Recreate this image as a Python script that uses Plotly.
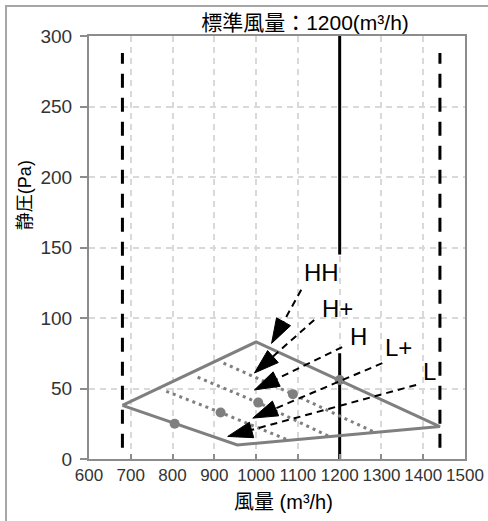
import plotly.graph_objects as go

# ---- data ----
x_ticks = [600, 700, 800, 900, 1000, 1100, 1200, 1300, 1400, 1500]
y_ticks = [0, 50, 100, 150, 200, 250, 300]

envelope_x = [680, 1000, 1440, 955, 680]
envelope_y = [38, 83, 23, 10, 38]

point_x = [805, 915, 1005, 1088, 1200]
point_y = [25, 33, 40, 46, 56]

curve1_x = [785, 915, 1080]
curve1_y = [48, 33, 13]
curve2_x = [860, 1005, 1175]
curve2_y = [58, 40, 16]
curve3_x = [922, 1088, 1283]
curve3_y = [68, 46, 19]

limit_x = [680, 1440]
limit_y = [8, 288]

rated_x = 1200
rated_low_y = [0, 75]
rated_high_y = [145, 300]

labels = ["HH", "H+", "H", "L+", "L"]
label_x = [1156, 1194, 1246, 1342, 1414]
label_y = [132, 107, 87, 79, 62]
tail_x = [1108, 1139, 1206, 1302, 1383]
tail_y = [120, 98.6, 79.4, 68, 52.5]
tip_x = [1037, 996, 996, 992, 932]
tip_y = [82, 61, 49, 29, 16]

GRAY = "#7f7f7f"
CJK = "Liberation Sans, Noto Sans CJK JP, sans-serif"

fig = go.Figure()

# limit dashed verticals
for lx in limit_x:
    fig.add_trace(go.Scatter(x=[lx, lx], y=limit_y, mode="lines",
                             line=dict(color="black", width=3, dash="14px,10px"),
                             hoverinfo="skip", showlegend=False))

# rated flow solid line
for seg in (rated_low_y, rated_high_y):
    fig.add_trace(go.Scatter(x=[rated_x, rated_x], y=seg, mode="lines",
                             line=dict(color="black", width=3),
                             hoverinfo="skip", showlegend=False))

# dotted fan curves
for cx, cy in ((curve1_x, curve1_y), (curve2_x, curve2_y), (curve3_x, curve3_y)):
    fig.add_trace(go.Scatter(x=cx, y=cy, mode="lines",
                             line=dict(color=GRAY, width=3, dash="3px,4px"),
                             hoverinfo="skip", showlegend=False))

# envelope
fig.add_trace(go.Scatter(x=envelope_x, y=envelope_y, mode="lines",
                         line=dict(color=GRAY, width=3),
                         hoverinfo="skip", showlegend=False))

# points
fig.add_trace(go.Scatter(x=point_x, y=point_y, mode="markers",
                         marker=dict(color=GRAY, size=10),
                         hoverinfo="skip", showlegend=False))

# dashed arrows
for i in range(len(labels)):
    fig.add_trace(go.Scatter(x=[tail_x[i], tip_x[i]], y=[tail_y[i], tip_y[i]],
                             mode="lines+markers",
                             line=dict(color="black", width=2, dash="7px,5px"),
                             marker=dict(symbol=["circle", "arrow"], size=[0, 26],
                                         color="black", opacity=1, angleref="previous",
                                         line=dict(width=1, color="black")),
                             hoverinfo="skip", showlegend=False))
    fig.add_annotation(x=label_x[i], y=label_y[i], text=labels[i], showarrow=False,
                       font=dict(family="Liberation Sans, Arial, sans-serif", size=24, color="black"),
                       xanchor="center", yanchor="middle")

fig.add_annotation(xref="paper", yref="paper", x=-0.170, y=0.624, text="静圧(Pa)",
                   textangle=-90, showarrow=False,
                   font=dict(family=CJK, size=18, color="black"),
                   xanchor="center", yanchor="middle")
fig.add_annotation(xref="paper", yref="paper", x=0.516, y=-0.102, text="風量 (m³/h)",
                   showarrow=False, font=dict(family=CJK, size=20, color="black"),
                   xanchor="center", yanchor="middle")

# outer frame
fig.add_shape(type="rect", xref="paper", yref="paper", x0=-0.2207, x1=1.2, y0=-0.3, y1=1.071,
              line=dict(color="#a6a6a6", width=2), fillcolor="rgba(0,0,0,0)", layer="above")

fig.update_layout(
    width=488, height=521,
    margin=dict(l=89, r=23, t=36, b=62, autoexpand=False),
    paper_bgcolor="white", plot_bgcolor="white",
    title=dict(text="標準風量：1200(m³/h)", x=305/488, xanchor="center",
               y=1 - 23/521, yanchor="middle", font=dict(family=CJK, size=21, color="black")),
    xaxis=dict(range=[600, 1500], tickvals=x_ticks, ticktext=[str(v) for v in x_ticks],
               showgrid=True, gridcolor="#d9d9d9", gridwidth=1.5, griddash="6px,5px",
               showline=True, linecolor="#8c8c8c", linewidth=2, mirror=True,
               ticks="inside", ticklen=5, tickcolor="#8c8c8c", tickwidth=1.5,
               tickangle=0, automargin=False,
               tickfont=dict(family="Liberation Sans Narrow, Arial Narrow, sans-serif", size=17, color="#333333"),
               zeroline=False, fixedrange=True),
    yaxis=dict(range=[0, 300], tickvals=y_ticks, ticktext=[str(v) for v in y_ticks],
               showgrid=True, gridcolor="#d9d9d9", gridwidth=1.5, griddash="6px,5px",
               showline=True, linecolor="#8c8c8c", linewidth=2, mirror=True,
               ticks="outside", ticklen=7, tickcolor="#8c8c8c", tickwidth=1.5,
               ticklabelstandoff=4, automargin=False,
               tickfont=dict(family="Liberation Sans, Arial, sans-serif", size=19, color="#333333"),
               zeroline=False, fixedrange=True),
)

fig.write_html("out.html", config={"displayModeBar": False},
               post_script="document.body.style.margin='0';document.body.style.padding='0';"
                           "document.documentElement.style.overflow='hidden';")
